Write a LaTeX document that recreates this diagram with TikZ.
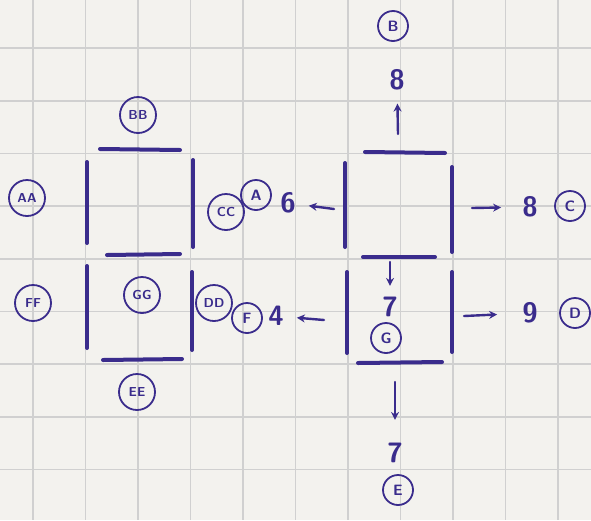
\documentclass[tikz,border=0pt]{standalone}
\usetikzlibrary{arrows.meta}
\definecolor{ink}{HTML}{3A2C8C}
\definecolor{paper}{HTML}{F3F2EE}
\definecolor{gridc}{HTML}{D0D0D0}
\begin{document}
\begin{tikzpicture}[x=1pt,y=-1pt,
  seg/.style={ink, line width=4pt, line cap=round},
  lab/.style={circle, draw=ink, line width=1.8pt, text=ink, inner sep=0pt,
    minimum size=30pt, font=\sffamily\bfseries\fontsize{15}{15}\selectfont},
  lab2/.style={lab, minimum size=36pt, font=\sffamily\bfseries\fontsize{13}{13}\selectfont},
  num/.style={text=ink, inner sep=1pt, font=\sffamily\bfseries\fontsize{28}{28}\selectfont},
  arr/.style={ink, line width=2.4pt, line cap=round, -{Stealth[length=8pt,width=8pt]}}]
\useasboundingbox (0,0) rectangle (591,520);
\fill[paper] (0,0) rectangle (591,520);
% grid paper
\foreach \i in {0,...,10} \draw[gridc, line width=1.6pt] ({33+52.5*\i},0) -- ({33+52.5*\i},520);
\foreach \j in {0,...,8} \draw[gridc, line width=1.6pt] (0,{48+52.7*\j}) -- (591,{48+52.7*\j});

% ---------- left box (double letters) ----------
\draw[seg] (100,149) -- (180,150);
\draw[seg] (87,162) -- (87,243);
\draw[seg] (193,160) -- (193,247);
\draw[seg] (107,255) -- (180,254);
\draw[seg] (87,266) -- (87,348);
\draw[seg] (192,272) -- (192,350);
\draw[seg] (103,360) -- (182,359);

\node[lab2] (AA) at (27,198) {AA};
\node[lab2] (BB) at (138,115) {BB};
\node[lab2] (CC) at (226,212) {CC};
\node[lab2] (DD) at (214,303) {DD};
\node[lab2] (EE) at (137,392) {EE};
\node[lab2] (FF) at (33,303) {FF};
\node[lab2] (GG) at (142,295) {GG};

% ---------- right box (single letters) ----------
\draw[seg] (365,152) -- (445,153);
\draw[seg] (345,163) -- (345,247);
\draw[seg] (452,167) -- (452,252);
\draw[seg] (363,257) -- (435,257);
\draw[seg] (347,272) -- (347,353);
\draw[seg] (452,272) -- (452,352);
\draw[seg] (358,363) -- (442,362);

% top
\coordinate (t0) at (398,134);
\node[num] (n8t) at (397,80) {8};
\node[lab] (B) at (393,26) {B};
\draw[arr, shorten >=12pt] (t0) -- (n8t);
% right, upper
\coordinate (r1) at (472,208);
\node[num] (n8r) at (530,207) {8};
\node[lab] (C) at (570,206) {C};
\draw[arr, shorten >=20pt] (r1) -- (n8r);
% right, lower
\coordinate (r2) at (464,316);
\node[num] (n9) at (530,313) {9};
\node[lab] (D) at (575,313) {D};
\draw[arr, shorten >=24pt] (r2) -- (n9);
% left, upper
\coordinate (l1) at (334,209);
\node[num] (n6) at (288,203) {6};
\node[lab] (A) at (256,195) {A};
\draw[arr, shorten >=12pt] (l1) -- (n6);
% left, lower
\coordinate (l2) at (324,320);
\node[num] (n4) at (276,316) {4};
\node[lab] (F) at (247,318) {F};
\draw[arr, shorten >=12pt] (l2) -- (n4);
% middle
\coordinate (m0) at (390,262);
\node[num] (n7m) at (390,307) {7};
\node[lab] (G) at (386,338) {G};
\draw[arr, shorten >=10pt] (m0) -- (n7m);
% bottom
\coordinate (b0) at (395,382);
\node[num] (n7b) at (395,453) {7};
\node[lab] (E) at (398,490) {E};
\draw[arr, shorten >=22pt] (b0) -- (n7b);
\end{tikzpicture}
\end{document}
